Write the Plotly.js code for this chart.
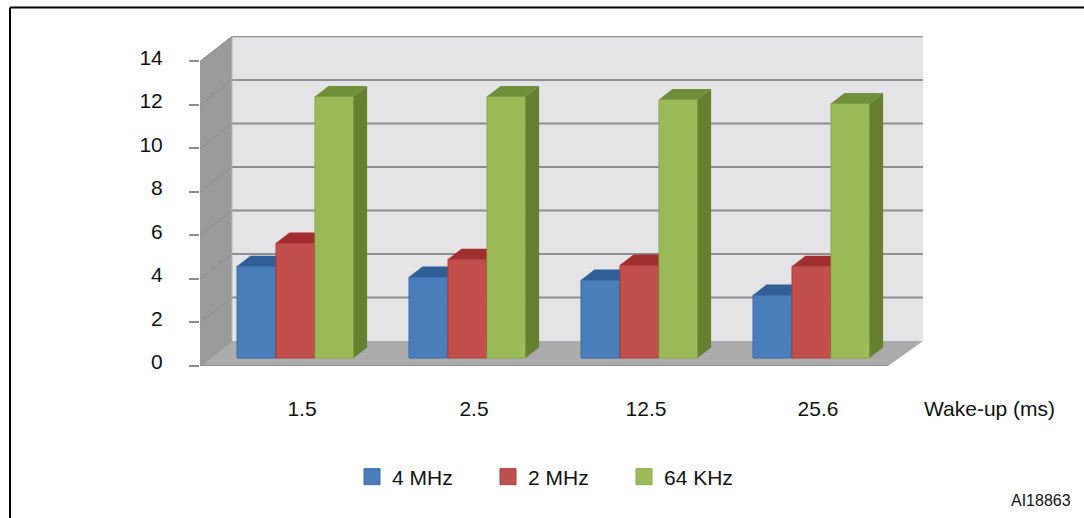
<!DOCTYPE html>
<html>
<head>
<meta charset="utf-8">
<script src="https://cdn.plot.ly/plotly-3.0.1.min.js"></script>
<style>html,body{margin:0;padding:0;background:#fff}</style>
</head>
<body>
<div id="chart" style="width:1084px;height:518px"></div>
<script>
const wakeUp = ['1.5', '2.5', '12.5', '25.6'];
const mhz4 = [4.22, 3.72, 3.58, 2.89];
const mhz2 = [5.28, 4.54, 4.27, 4.22];
const khz64 = [12.02, 12.02, 11.88, 11.70];
const seriesNames = ['4 MHz', '2 MHz', '64 KHz'];
const yTicks = [0, 2, 4, 6, 8, 10, 12, 14];

const pxX = 172, pxY = 21.76;
const plot = {l: 200, r: 923, t: 36, b: 366};
const xRange = [(plot.l - 302) / pxX, (plot.r - 302) / pxX];
const yRange = [0, (plot.b - plot.t) / pxY];
const wallDx = 32 / pxX, wallDy = 25 / pxY;
const barDx = 13.5 / pxX, barDy = 10.5 / pxY;
const barBase = 8 / pxY;
const barW = 38.6 / pxX;
const floorEnd = (888 - 302) / pxX;
const offsets = [-65 / pxX, -26 / pxX, 13 / pxX];
const values = [mhz4, mhz2, khz64];
const front = ['#4a7ebb', '#c24f4c', '#9bbb59'];
const topFace = ['#2f5f96', '#a12f2d', '#708f3a'];
const sideFace = ['#2f5f96', '#8e2a28', '#66802f'];
const edge = ['#3a6a9f', '#a83f3c', '#8aa84c'];
const swatch = ['#4a7ebb', '#c0504d', '#9bbb59'];

function poly(xs, ys, fill, yaxis) {
  return {type: 'scatter', mode: 'lines', x: xs.concat(xs[0]), y: ys.concat(ys[0]), fill: 'toself',
    fillcolor: fill, line: {width: 0, color: fill}, showlegend: false, hoverinfo: 'skip', xaxis: 'x', yaxis: yaxis};
}
function line(xs, ys, color, width) {
  return {type: 'scatter', mode: 'lines', x: xs, y: ys, line: {color: color, width: width}, cliponaxis: false,
    showlegend: false, hoverinfo: 'skip', xaxis: 'x', yaxis: 'y'};
}

const traces = [];
const yTop = yRange[1];
// back wall, side wall, floor
traces.push(poly([xRange[0] + wallDx, xRange[1], xRange[1], xRange[0] + wallDx], [wallDy, wallDy, yTop, yTop], '#e4e4e6', 'y'));
traces.push(poly([xRange[0], xRange[0] + wallDx, xRange[0] + wallDx, xRange[0]], [0, wallDy, 14 + wallDy, 14], '#9a9a9a', 'y'));
traces.push(poly([xRange[0], xRange[0] + wallDx, xRange[1], floorEnd], [0, wallDy, wallDy, 0], '#ababab', 'y'));
yTicks.forEach(t => {
  traces.push(line([xRange[0], xRange[0] + wallDx], [t, t + wallDy], '#8c8c8c', 1));
  if (t > 0) traces.push(line([xRange[0] + wallDx, xRange[1]], [t + wallDy, t + wallDy], '#8e8e8e', 2));
});
traces.push(line([xRange[0] + wallDx, xRange[0] + wallDx], [wallDy, yTop], '#b5b5b5', 1));
traces.push(line([xRange[0], floorEnd], [0, 0], '#8c8c8c', 2));

// bars, each series in its own overlaid subplot so that it stacks over the previous one
values.forEach((vals, s) => {
  const ya = 'y' + (s + 2);
  traces.push({type: 'bar', x: vals.map((_, i) => i), y: vals, base: barBase, offset: offsets[s], width: barW,
    marker: {color: front[s], line: {color: edge[s], width: 1}}, name: seriesNames[s],
    showlegend: false, hoverinfo: 'skip', xaxis: 'x', yaxis: ya});
  vals.forEach((v, i) => {
    const x0 = i + offsets[s], x1 = x0 + barW, yT = v + barBase;
    traces.push(poly([x0, x1, x1 + barDx, x0 + barDx], [yT, yT, yT + barDy, yT + barDy], topFace[s], ya));
    traces.push(poly([x1, x1 + barDx, x1 + barDx, x1], [barBase, barBase + barDy, yT + barDy, yT], sideFace[s], ya));
  });
});

// legend entries
seriesNames.forEach((n, s) => {
  traces.push({type: 'scatter', mode: 'markers', x: [null], y: [null], name: n,
    marker: {symbol: 'square', size: 16, color: swatch[s], line: {color: edge[s], width: 1}},
    hoverinfo: 'skip', xaxis: 'x', yaxis: 'y'});
});

const W = plot.r - plot.l, H = plot.b - plot.t;
const px = v => (v - plot.l) / W, py = v => (plot.b - v) / H;
const txt = {family: '"Liberation Sans", Arial, sans-serif', size: 21, color: '#111111'};
const hiddenY = {range: yRange, overlaying: 'y', visible: false, fixedrange: true};
const layout = {
  width: 1084, height: 518, autosize: false,
  margin: {l: plot.l, r: 1084 - plot.r, t: plot.t, b: 518 - plot.b, pad: 0},
  paper_bgcolor: '#ffffff', plot_bgcolor: 'rgba(0,0,0,0)',
  font: txt,
  xaxis: {range: xRange, tickmode: 'array', tickvals: wakeUp.map((_, i) => i), ticktext: wakeUp,
    showgrid: false, zeroline: false, showline: false, ticks: '', ticklabelstandoff: 28, tickfont: txt, fixedrange: true},
  yaxis: {range: yRange, tickmode: 'array', tickvals: yTicks, ticktext: yTicks.map(String),
    showgrid: false, zeroline: false, showline: false, ticks: 'outside', ticklen: 10, tickwidth: 2, tickcolor: '#8c8c8c',
    ticklabelstandoff: 22, ticklabelshift: -4, tickfont: txt, fixedrange: true},
  yaxis2: hiddenY, yaxis3: Object.assign({}, hiddenY), yaxis4: Object.assign({}, hiddenY),
  barmode: 'overlay',
  showlegend: true,
  legend: {orientation: 'h', x: px(352), xanchor: 'left', y: py(477), yanchor: 'middle',
    entrywidth: 91, entrywidthmode: 'pixels', font: txt, bgcolor: 'rgba(0,0,0,0)', itemclick: false, itemdoubleclick: false},
  annotations: [
    {text: 'Wake-up (ms)', xref: 'paper', yref: 'paper', x: px(990), y: py(408),
      xanchor: 'center', yanchor: 'middle', showarrow: false, font: txt},
    {text: 'AI18863', xref: 'paper', yref: 'paper', x: px(1073), y: py(500),
      xanchor: 'right', yanchor: 'middle', showarrow: false, font: {family: txt.family, size: 16, color: '#111111'}}
  ],
  shapes: [
    {type: 'line', xref: 'paper', yref: 'paper', x0: px(10), x1: px(1084), y0: py(7.5), y1: py(7.5), line: {color: '#000', width: 2}},
    {type: 'line', xref: 'paper', yref: 'paper', x0: px(10), x1: px(10), y0: py(7.5), y1: py(518), line: {color: '#000', width: 2}}
  ]
};
Plotly.newPlot('chart', traces, layout, {displayModeBar: false, staticPlot: true});
</script>
</body>
</html>
